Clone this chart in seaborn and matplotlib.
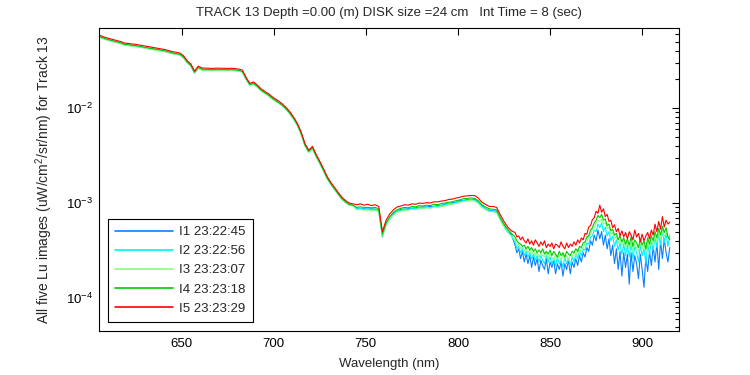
import numpy as np
import pandas as pd
import matplotlib
matplotlib.use("Agg")
import matplotlib.pyplot as plt
import seaborn as sns
from matplotlib.ticker import NullLocator, FixedLocator

# ---------------- data (radiance in units of 1e-3 uW/cm^2/sr/nm) ----------------
wl_a = np.arange(605, 830, 2)          # 605 ... 829 nm
wl_b = np.arange(831, 916, 1)          # 831 ... 915 nm
wavelength = np.concatenate([wl_a, wl_b])

labels = ["I1 23:22:45", "I2 23:22:56", "I3 23:23:07", "I4 23:23:18", "I5 23:23:29"]
colors = ["#0a80ff", "#00f0ff", "#80ff80", "#00cc00", "#ff0000"]

lu_i5 = [
    58.6, 56.8, 55.0, 53.6, 52.4, 51.2, 50.0, 48.2, 47.8, 47.2,
    46.8, 46.0, 45.3, 44.6, 43.8, 43.2, 42.6, 41.9, 41.2, 40.2,
    39.2, 38.6, 37.9, 35.5, 31.5, 29.0, 24.5, 27.6, 26.4, 26.3,
    26.2, 26.1, 26.3, 26.2, 26.2, 26.1, 26.2, 26.0, 25.7, 25.0,
    21.0, 18.2, 18.8, 17.5, 16.0, 15.0, 14.2, 13.2, 12.4, 11.7,
    10.9, 10.0, 9.0, 7.9, 6.8, 5.5, 4.2, 3.6, 3.95, 3.25,
    2.75, 2.3, 1.9, 1.65, 1.46, 1.29, 1.15, 1.06, 1.00, 0.98,
    0.96, 0.98, 0.95, 0.97, 0.94, 0.96, 0.92, 0.50, 0.66, 0.77,
    0.85, 0.91, 0.93, 0.96, 0.95, 0.98, 0.97, 1.00, 0.99, 1.01,
    1.00, 1.03, 1.03, 1.05, 1.06, 1.09, 1.10, 1.13, 1.15, 1.18,
    1.19, 1.20, 1.20, 1.13, 1.02, 0.97, 0.92, 0.92, 0.90, 0.75,
    0.64, 0.56, 0.51,
    0.49, 0.44, 0.45, 0.41, 0.44, 0.40, 0.38, 0.42, 0.37, 0.40,
    0.36, 0.41, 0.38, 0.35, 0.39, 0.36, 0.40, 0.34, 0.37, 0.35,
    0.38, 0.33, 0.37, 0.36, 0.34, 0.39, 0.35, 0.33, 0.38, 0.34,
    0.37, 0.35, 0.39, 0.36, 0.41, 0.38, 0.43, 0.41, 0.48, 0.47,
    0.56, 0.58, 0.67, 0.70, 0.82, 0.78, 0.95, 0.80, 0.87, 0.72,
    0.76, 0.64, 0.66, 0.55, 0.59, 0.50, 0.54, 0.45, 0.51, 0.44,
    0.49, 0.42, 0.50, 0.46, 0.41, 0.52, 0.44, 0.48, 0.39, 0.47,
    0.40, 0.45, 0.49, 0.42, 0.52, 0.46, 0.60, 0.50, 0.64, 0.53,
    0.72, 0.56, 0.66, 0.60, 0.63,
]

lu_i4 = [
    56.8, 55.1, 53.4, 52.0, 50.8, 49.7, 48.5, 46.8, 46.4, 45.8,
    45.4, 44.6, 43.9, 43.3, 42.5, 41.9, 41.3, 40.6, 40.0, 39.0,
    38.0, 37.4, 36.8, 34.4, 30.6, 28.1, 23.8, 26.8, 25.6, 25.5,
    25.4, 25.3, 25.5, 25.4, 25.4, 25.3, 25.4, 25.2, 24.9, 24.3,
    20.4, 17.7, 18.2, 17.0, 15.5, 14.6, 13.8, 12.8, 12.0, 11.3,
    10.6, 9.7, 8.7, 7.7, 6.6, 5.3, 4.07, 3.49, 3.83, 3.15,
    2.67, 2.23, 1.84, 1.60, 1.42, 1.25, 1.12, 1.03, 0.97, 0.95,
    0.90, 0.91, 0.90, 0.90, 0.89, 0.90, 0.87, 0.47, 0.62, 0.72,
    0.80, 0.85, 0.88, 0.90, 0.89, 0.92, 0.91, 0.94, 0.93, 0.95,
    0.94, 0.97, 0.96, 0.99, 1.00, 1.02, 1.03, 1.06, 1.08, 1.11,
    1.12, 1.13, 1.12, 1.06, 0.96, 0.91, 0.87, 0.86, 0.85, 0.70,
    0.60, 0.53, 0.48,
    0.44, 0.40, 0.38, 0.37, 0.35, 0.36, 0.33, 0.35, 0.32, 0.34,
    0.31, 0.33, 0.30, 0.32, 0.30, 0.33, 0.29, 0.31, 0.29, 0.32,
    0.28, 0.31, 0.29, 0.27, 0.31, 0.28, 0.30, 0.27, 0.31, 0.29,
    0.28, 0.31, 0.30, 0.33, 0.31, 0.35, 0.34, 0.38, 0.39, 0.44,
    0.45, 0.52, 0.55, 0.62, 0.66, 0.74, 0.70, 0.76, 0.66, 0.68,
    0.58, 0.60, 0.51, 0.53, 0.46, 0.48, 0.41, 0.45, 0.39, 0.43,
    0.37, 0.42, 0.36, 0.44, 0.35, 0.41, 0.38, 0.34, 0.42, 0.36,
    0.40, 0.33, 0.43, 0.37, 0.45, 0.40, 0.50, 0.43, 0.54, 0.46,
    0.57, 0.49, 0.55, 0.44, 0.41,
]

lu_i3 = [
    55.7, 54.0, 52.3, 50.9, 49.8, 48.6, 47.5, 45.8, 45.4, 44.8,
    44.5, 43.7, 43.0, 42.4, 41.6, 41.0, 40.5, 39.8, 39.1, 38.2,
    37.2, 36.7, 36.0, 33.7, 29.9, 27.6, 23.3, 26.2, 25.1, 25.0,
    24.9, 24.8, 25.0, 24.9, 24.9, 24.8, 24.9, 24.7, 24.4, 23.8,
    20.0, 17.3, 17.9, 16.6, 15.2, 14.3, 13.5, 12.5, 11.8, 11.1,
    10.4, 9.5, 8.6, 7.5, 6.5, 5.2, 3.99, 3.42, 3.75, 3.09,
    2.61, 2.19, 1.81, 1.57, 1.39, 1.23, 1.09, 1.01, 0.95, 0.93,
    0.85, 0.86, 0.84, 0.85, 0.83, 0.84, 0.81, 0.45, 0.58, 0.68,
    0.75, 0.80, 0.82, 0.84, 0.84, 0.86, 0.85, 0.88, 0.87, 0.89,
    0.88, 0.91, 0.90, 0.92, 0.93, 0.96, 0.97, 0.99, 1.01, 1.04,
    1.05, 1.06, 1.05, 0.99, 0.90, 0.85, 0.81, 0.81, 0.79, 0.66,
    0.56, 0.49, 0.45,
    0.41, 0.36, 0.37, 0.33, 0.35, 0.31, 0.33, 0.30, 0.32, 0.29,
    0.31, 0.28, 0.30, 0.27, 0.30, 0.28, 0.27, 0.30, 0.26, 0.29,
    0.27, 0.25, 0.29, 0.26, 0.28, 0.25, 0.29, 0.26, 0.28, 0.25,
    0.29, 0.27, 0.30, 0.28, 0.32, 0.30, 0.34, 0.33, 0.38, 0.39,
    0.45, 0.47, 0.53, 0.56, 0.62, 0.66, 0.64, 0.68, 0.60, 0.62,
    0.54, 0.55, 0.47, 0.49, 0.42, 0.45, 0.38, 0.41, 0.36, 0.40,
    0.34, 0.39, 0.33, 0.38, 0.32, 0.37, 0.34, 0.31, 0.38, 0.33,
    0.36, 0.30, 0.39, 0.34, 0.41, 0.36, 0.45, 0.39, 0.48, 0.41,
    0.51, 0.44, 0.49, 0.43, 0.47,
]

lu_i2 = [
    56.0, 54.2, 52.5, 51.2, 50.0, 48.9, 47.8, 46.0, 45.6, 45.1,
    44.7, 43.9, 43.3, 42.6, 41.8, 41.3, 40.7, 40.0, 39.3, 38.4,
    37.4, 36.9, 36.2, 33.9, 30.1, 27.7, 23.4, 26.4, 25.2, 25.1,
    25.0, 24.9, 25.1, 25.0, 25.0, 24.9, 25.0, 24.8, 24.5, 23.9,
    20.1, 17.4, 18.0, 16.7, 15.3, 14.3, 13.6, 12.6, 11.8, 11.2,
    10.4, 9.6, 8.6, 7.5, 6.5, 5.25, 4.01, 3.44, 3.77, 3.10,
    2.63, 2.20, 1.81, 1.58, 1.39, 1.23, 1.10, 1.01, 0.955, 0.94,
    0.87, 0.88, 0.85, 0.88, 0.84, 0.87, 0.82, 0.46, 0.59, 0.70,
    0.76, 0.83, 0.83, 0.87, 0.85, 0.89, 0.86, 0.91, 0.88, 0.91,
    0.89, 0.93, 0.92, 0.95, 0.95, 0.99, 0.98, 1.02, 1.03, 1.07,
    1.07, 1.09, 1.07, 1.02, 0.91, 0.88, 0.82, 0.83, 0.80, 0.68,
    0.57, 0.50, 0.45,
    0.39, 0.33, 0.35, 0.30, 0.33, 0.28, 0.31, 0.27, 0.30, 0.26,
    0.29, 0.25, 0.28, 0.24, 0.28, 0.25, 0.23, 0.28, 0.24, 0.27,
    0.23, 0.26, 0.22, 0.27, 0.23, 0.25, 0.21, 0.27, 0.23, 0.26,
    0.22, 0.27, 0.24, 0.29, 0.26, 0.31, 0.28, 0.33, 0.32, 0.38,
    0.37, 0.44, 0.45, 0.52, 0.50, 0.60, 0.55, 0.62, 0.50, 0.56,
    0.45, 0.50, 0.40, 0.45, 0.35, 0.41, 0.32, 0.38, 0.29, 0.37,
    0.28, 0.36, 0.27, 0.38, 0.26, 0.35, 0.30, 0.24, 0.36, 0.28,
    0.33, 0.23, 0.37, 0.29, 0.40, 0.32, 0.44, 0.34, 0.47, 0.36,
    0.52, 0.38, 0.48, 0.35, 0.45,
]

lu_i1 = [
    56.3, 54.5, 52.8, 51.5, 50.3, 49.2, 48.0, 46.3, 45.9, 45.3,
    44.9, 44.2, 43.5, 42.8, 42.0, 41.5, 40.9, 40.2, 39.6, 38.6,
    37.6, 37.1, 36.4, 34.1, 30.2, 27.8, 23.5, 26.5, 25.3, 25.2,
    25.2, 25.1, 25.2, 25.2, 25.2, 25.1, 25.2, 25.0, 24.7, 24.0,
    20.2, 17.5, 18.0, 16.8, 15.4, 14.4, 13.6, 12.7, 11.9, 11.2,
    10.5, 9.6, 8.6, 7.6, 6.5, 5.3, 4.03, 3.46, 3.79, 3.12,
    2.64, 2.21, 1.82, 1.58, 1.40, 1.24, 1.10, 1.02, 0.96, 0.94,
    0.88, 0.87, 0.87, 0.86, 0.87, 0.86, 0.84, 0.44, 0.61, 0.69,
    0.78, 0.82, 0.86, 0.86, 0.87, 0.88, 0.89, 0.90, 0.91, 0.91,
    0.92, 0.92, 0.95, 0.94, 0.98, 0.98, 1.01, 1.02, 1.06, 1.06,
    1.09, 1.08, 1.10, 1.02, 0.94, 0.87, 0.84, 0.83, 0.82, 0.67,
    0.59, 0.50, 0.47,
    0.36, 0.30, 0.33, 0.26, 0.31, 0.24, 0.29, 0.23, 0.28, 0.21,
    0.27, 0.22, 0.26, 0.19, 0.25, 0.22, 0.20, 0.26, 0.18, 0.24,
    0.21, 0.25, 0.18, 0.23, 0.20, 0.24, 0.17, 0.23, 0.20, 0.25,
    0.18, 0.24, 0.21, 0.26, 0.22, 0.28, 0.24, 0.30, 0.27, 0.34,
    0.31, 0.40, 0.36, 0.46, 0.40, 0.52, 0.42, 0.50, 0.36, 0.46,
    0.33, 0.42, 0.28, 0.36, 0.23, 0.33, 0.20, 0.31, 0.17, 0.30,
    0.21, 0.29, 0.14, 0.30, 0.19, 0.28, 0.23, 0.16, 0.29, 0.20,
    0.13, 0.27, 0.19, 0.31, 0.22, 0.35, 0.24, 0.38, 0.20, 0.40,
    0.26, 0.42, 0.30, 0.24, 0.34,
]

UNIT = 1e-3
series = [lu_i1, lu_i2, lu_i3, lu_i4, lu_i5]

frames = []
for lab, vals in zip(labels, series):
    frames.append(pd.DataFrame({"Wavelength": wavelength,
                                "Lu": np.asarray(vals) * UNIT,
                                "Image": lab}))
df = pd.concat(frames, ignore_index=True)

# ---------------- plot ----------------
FS = 9.5
sns.set_style("white")
plt.rcParams["font.family"] = ["Liberation Sans", "DejaVu Sans"]
plt.rcParams["font.size"] = FS
plt.rcParams["mathtext.fontset"] = "custom"
plt.rcParams["mathtext.rm"] = "Liberation Sans"
plt.rcParams["mathtext.it"] = "Liberation Sans"

fig = plt.figure(figsize=(7.5, 3.75), dpi=100)
ax = fig.add_axes([0.1317, 0.1173, 0.7736, 0.808])

sns.lineplot(data=df, x="Wavelength", y="Lu", hue="Image", hue_order=labels,
             palette=colors, estimator=None, sort=False, linewidth=0.8, ax=ax)

ax.set_yscale("log")
ax.set_xlim(605, 920)
ax.set_ylim(4.5e-5, 0.0695)
ax.xaxis.set_major_locator(FixedLocator([650, 700, 750, 800, 850, 900]))
ax.xaxis.set_minor_locator(NullLocator())

for s in ax.spines.values():
    s.set_color("black")
    s.set_linewidth(0.8)
ax.tick_params(which="both", direction="in", top=True, right=True,
               colors="black", width=0.8, labelsize=FS)
ax.tick_params(which="major", length=5)
ax.tick_params(which="minor", length=3)
ax.tick_params(axis="x", which="major", pad=5)
ax.tick_params(axis="y", which="major", pad=4)

ax.set_xlabel("Wavelength (nm)", fontsize=FS)
ax.set_ylabel("All five Lu images (uW/cm$^2$/sr/nm) for Track 13", fontsize=FS + 0.5)
ax.xaxis.set_label_coords(0.5, -0.09)
ax.yaxis.set_label_coords(-0.075, 0.5)

fig.text(0.5187, 0.966, "TRACK 13 Depth =0.00 (m) DISK size =24 cm   Int Time = 8 (sec)",
         ha="center", va="center", fontsize=FS)

leg = ax.legend(loc="lower left", bbox_to_anchor=(0.016, 0.03), frameon=True,
                fancybox=False, edgecolor="black", framealpha=1, fontsize=FS,
                handlelength=4.4, handletextpad=0.45, labelspacing=0.52,
                borderpad=0.55, borderaxespad=0)
leg.get_frame().set_linewidth(0.8)
for h in leg.get_lines():
    h.set_linewidth(1.2)

fig.savefig("out.png", dpi=100)
